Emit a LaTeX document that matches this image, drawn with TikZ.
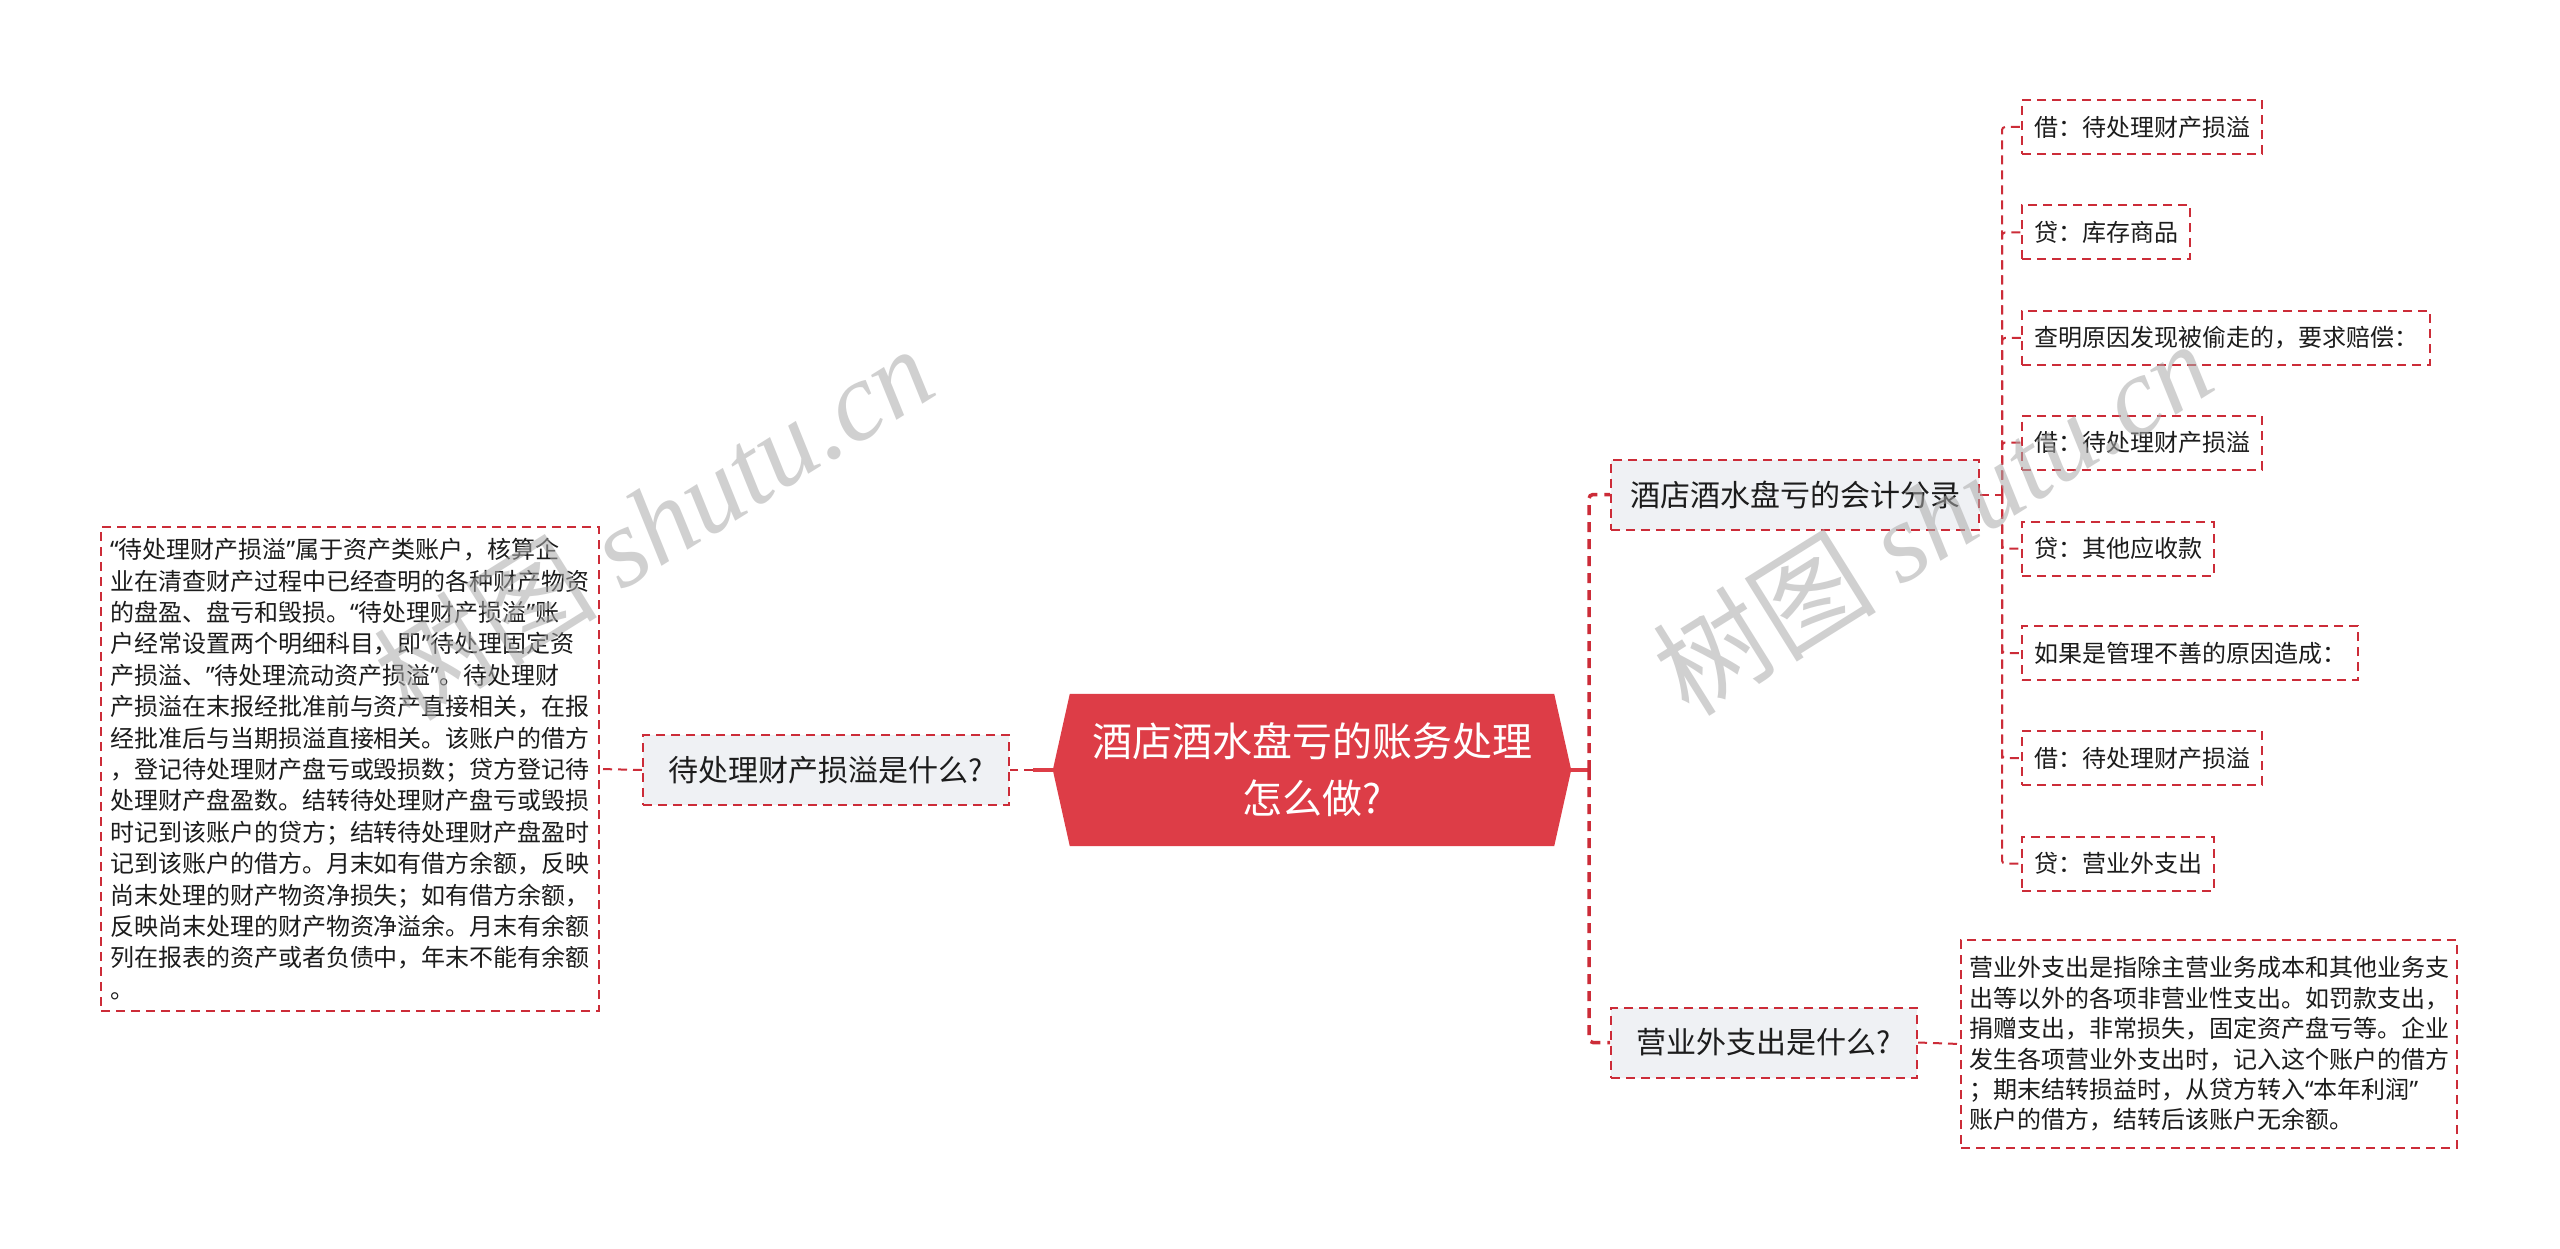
\documentclass[tikz,border=0pt]{standalone}
\usepackage{fontspec}
\setmainfont{Noto Sans CJK SC}
\newfontfamily\wmlatin{Liberation Serif}
\newfontfamily\qfont{Noto Sans}
\newcommand\myoq{{\qfont “}}
\newcommand\mycq{{\qfont ”}}
\usetikzlibrary{calc}
\definecolor{bordercol}{RGB}{204,44,56}
\definecolor{rootcol}{RGB}{221,61,71}
\definecolor{midfill}{RGB}{239,241,244}
\definecolor{txt}{RGB}{28,28,28}
\definecolor{wmcol}{RGB}{170,170,170}
\tikzset{
  dline/.style={draw=bordercol, line width=2pt, dash pattern=on 9pt off 6pt, rounded corners=3pt},
  spine/.style={draw=bordercol, line width=3.5pt, dash pattern=on 10pt off 7pt, rounded corners=4pt},
  rootline/.style={draw=rootcol, line width=3.5pt},
  midbox/.style={draw=bordercol, line width=2pt, dash pattern=on 9pt off 6pt, fill=midfill,
    text=txt, font=\fontsize{30pt}{36pt}\selectfont, inner sep=0pt, minimum height=70pt},
  leafbox/.style={draw=bordercol, line width=2pt, dash pattern=on 9pt off 6pt, fill=white,
    text=txt, font=\fontsize{24pt}{28pt}\selectfont, inner xsep=12pt, inner ysep=0pt,
    minimum height=54pt, anchor=west},
  textbox/.style={draw=bordercol, line width=2pt, dash pattern=on 9pt off 6pt, fill=white,
    text=txt, align=left, inner sep=0pt},
  watermark/.style={text=wmcol, opacity=0.55, rotate=32, inner sep=0pt,
    font=\fontsize{112pt}{112pt}\selectfont}
}
\begin{document}
\begin{tikzpicture}[x=1pt,y=-1pt]
\useasboundingbox (0,0) rectangle (2560,1249);
\fill[white] (0,0) rectangle (2560,1249);

% root
\node (root) [minimum width=518pt, minimum height=152pt, inner sep=0pt] at (1312,770) {};
\fill[rootcol] ([xshift=17pt]root.north west) -- ([xshift=-17pt]root.north east) -- (root.east)
  -- ([xshift=-17pt]root.south east) -- ([xshift=17pt]root.south west) -- (root.west) -- cycle;
\node (roottext) [text=white, align=center, font=\fontsize{40pt}{57pt}\selectfont, inner sep=0pt]
  at (root.center) {酒店酒水盘亏的账务处理\\怎么做?};

% left branch
\node (q1) [midbox, minimum width=366pt] at (826,770) {待处理财产损溢是什么?};
\node (t1) [textbox, minimum width=498pt, minimum height=484pt, text width=480pt,
  font=\fontsize{24pt}{31.4pt}\selectfont] at (350,769) {%
\myoq{}待处理财产损溢\mycq{}属于资产类账户，核算企\\
业在清查财产过程中已经查明的各种财产物资\\
的盘盈、盘亏和毁损。\myoq{}待处理财产损溢\mycq{}账\\
户经常设置两个明细科目，即\mycq{}待处理固定资\\
产损溢、\mycq{}待处理流动资产损溢\mycq{}。待处理财\\
产损溢在末报经批准前与资产直接相关，在报\\
经批准后与当期损溢直接相关。该账户的借方\\
，登记待处理财产盘亏或毁损数；贷方登记待\\
处理财产盘盈数。结转待处理财产盘亏或毁损\\
时记到该账户的贷方；结转待处理财产盘盈时\\
记到该账户的借方。月末如有借方余额，反映\\
尚末处理的财产物资净损失；如有借方余额，\\
反映尚末处理的财产物资净溢余。月末有余额\\
列在报表的资产或者负债中，年末不能有余额\\
。};

% right branches
\node (b1) [midbox, minimum width=368pt] at (1795,494.5) {酒店酒水盘亏的会计分录};
\node (b2) [midbox, minimum width=306pt] at (1764,1042.5) {营业外支出是什么?};

\node (c1) [leafbox] at (2021,127) {借：待处理财产损溢};
\node (c2) [leafbox] at (2021,232.5) {贷：库存商品};
\node (c3) [leafbox] at (2021,338) {查明原因发现被偷走的，要求赔偿：};
\node (c4) [leafbox] at (2021,442.5) {借：待处理财产损溢};
\node (c5) [leafbox] at (2021,548.5) {贷：其他应收款};
\node (c6) [leafbox] at (2021,653) {如果是管理不善的原因造成：};
\node (c7) [leafbox] at (2021,758) {借：待处理财产损溢};
\node (c8) [leafbox] at (2021,863.5) {贷：营业外支出};

\node (t2) [textbox, minimum width=496pt, minimum height=208pt, text width=480pt,
  font=\fontsize{24pt}{30.4pt}\selectfont] at (2209,1044) {%
营业外支出是指除主营业务成本和其他业务支\\
出等以外的各项非营业性支出。如罚款支出，\\
捐赠支出，非常损失，固定资产盘亏等。企业\\
发生各项营业外支出时，记入这个账户的借方\\
；期末结转损益时，从贷方转入\myoq{}本年利润\mycq{}\\
账户的借方，结转后该账户无余额。};

% connectors
\coordinate (lj) at (1033,770);
\draw[rootline] (root.west) -- (lj);
\draw[dline] (lj) -- (q1.east);
\draw[dline] (q1.west) -- (t1.east);

\coordinate (rs) at (1589,770);
\draw[rootline] (root.east) -- (rs);
\draw[spine] (rs) |- (b1.west);
\draw[spine] (rs) |- (b2.west);

\coordinate (s1) at (2002,494.5);
\draw[dline] (b1.east) -- (s1);
\foreach \c in {c1,c2,c3,c4,c5,c6,c7,c8}{
  \draw[dline] (s1) |- (\c.west);
}
\draw[dline] (b2.east) -- (t2.west);

% watermarks
\node (wm1) [watermark] at (653,522) {树图 {\wmlatin\itshape shutu.cn}};
\node (wm2) [watermark] at (1932,517) {树图 {\wmlatin\itshape shutu.cn}};
\end{tikzpicture}
\end{document}
